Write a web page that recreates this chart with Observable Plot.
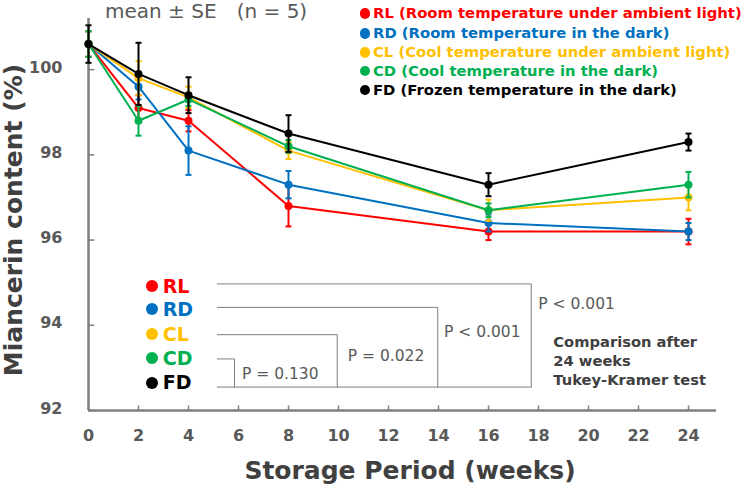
<!DOCTYPE html>
<html><head><meta charset="utf-8">
<script src="https://cdn.jsdelivr.net/npm/d3@7"></script>
<script src="https://cdn.jsdelivr.net/npm/@observablehq/plot@0.6"></script>
<style>
body{margin:0;background:#fff;}
#wrap{position:relative;width:744px;height:491px;overflow:hidden;font-family:"DejaVu Sans",sans-serif;}
#wrap svg{position:absolute;left:0;top:0;}
.t{position:absolute;white-space:pre;line-height:1.2;}
.dot{position:absolute;border-radius:50%;}
</style></head><body><div id="wrap"></div>
<script>
// ---- data ----
const weeks = [0, 2, 4, 8, 16, 24];
const seriesNames = ["RL", "RD", "CL", "CD", "FD"];
const seriesLabels = [
  "RL (Room temperature under ambient light)",
  "RD (Room temperature in the dark)",
  "CL (Cool temperature under ambient light)",
  "CD (Cool temperature in the dark)",
  "FD (Frozen temperature in the dark)"
];
const seriesColors = ["#FF0000", "#0070C0", "#FFC000", "#00B050", "#000000"];
const RL = [100.6, 99.1, 98.8, 96.8, 96.2, 96.2];
const RL_se = [0.3, 0.3, 0.25, 0.48, 0.2, 0.3];
const RD = [100.6, 99.6, 98.1, 97.3, 96.4, 96.2];
const RD_se = [0.3, 0.3, 0.57, 0.32, 0.2, 0.2];
const CL = [100.6, 99.8, 99.35, 98.1, 96.7, 97.0];
const CL_se = [0.3, 0.4, 0.25, 0.2, 0.25, 0.3];
const CD = [100.6, 98.8, 99.3, 98.2, 96.7, 97.3];
const CD_se = [0.3, 0.35, 0.15, 0.15, 0.16, 0.3];
const FD = [100.6, 99.9, 99.4, 98.5, 97.3, 98.3];
const FD_se = [0.44, 0.73, 0.42, 0.43, 0.27, 0.2];
const xTicks = [0, 2, 4, 6, 8, 10, 12, 14, 16, 18, 20, 22, 24];
const yTicks = [92, 94, 96, 98, 100];
// significance brackets (Tukey-Kramer, 24 weeks)
const bracketStart = 5.15;
const bracketBase = 92.55;
const bracketLevels = [94.97, 94.42, 93.78, 93.21]; // RL, RD, CL, CD
const bracketEnds = [17.71, 13.97, 9.95, 5.84];
const pLabels = ["P < 0.001", "P < 0.001", "P = 0.022", "P = 0.130"];

const means = [RL, RD, CL, CD, FD];
const ses = [RL_se, RD_se, CL_se, CD_se, FD_se];

// ---- build ----
const rows = seriesNames.map((s, k) => weeks.map((w, i) => ({series: s, week: w, mean: means[k][i], se: ses[k][i]})));

const axisColor = "#7F7F7F";
const labelColor = "#595959";
const capSym = {draw(ctx) { ctx.moveTo(-3, 0); ctx.lineTo(3, 0); }};
const xTickSym = {draw(ctx) { ctx.moveTo(0, 0); ctx.lineTo(0, -5); }};
const yTickSym = {draw(ctx) { ctx.moveTo(0, 0); ctx.lineTo(6, 0); }};

const bracketPts = [];
bracketLevels.forEach((lv, i) => {
  bracketPts.push({id: i, x: bracketStart, y: lv});
  bracketPts.push({id: i, x: bracketEnds[i], y: lv});
  bracketPts.push({id: i, x: bracketEnds[i], y: bracketBase});
});
bracketPts.push({id: 9, x: bracketStart, y: bracketBase});
bracketPts.push({id: 9, x: bracketEnds[0], y: bracketBase});

const marks = [
  Plot.line(bracketPts, {x: "x", y: "y", z: "id", stroke: axisColor, strokeWidth: 1}),
  Plot.ruleX([0], {stroke: axisColor, strokeWidth: 2.5}),
  Plot.ruleY([92], {stroke: axisColor, strokeWidth: 2.5}),
  Plot.dot(xTicks, {x: d => d, frameAnchor: "bottom", symbol: xTickSym, fill: "none", stroke: axisColor, strokeWidth: 1.5}),
  Plot.dot(yTicks, {y: d => d, frameAnchor: "left", symbol: yTickSym, fill: "none", stroke: axisColor, strokeWidth: 1.5}),
  Plot.text(xTicks, {x: d => d, frameAnchor: "bottom", dy: 30, text: d => String(d), fontSize: 16, fontWeight: "bold", fill: labelColor}),
  Plot.text(yTicks, {y: d => d, frameAnchor: "left", dx: -26, dy: -2, textAnchor: "end", text: d => String(d), fontSize: 16, fontWeight: "bold", fill: labelColor})
];
rows.forEach((r, k) => {
  const c = seriesColors[k];
  marks.push(
    Plot.ruleX(r, {x: "week", y1: d => d.mean - d.se, y2: d => d.mean + d.se, stroke: c, strokeWidth: 2}),
    Plot.dot(r, {x: "week", y: d => d.mean + d.se, symbol: capSym, fill: "none", stroke: c, strokeWidth: 2}),
    Plot.dot(r, {x: "week", y: d => d.mean - d.se, symbol: capSym, fill: "none", stroke: c, strokeWidth: 2}),
    Plot.line(r, {x: "week", y: "mean", stroke: c, strokeWidth: 2}),
    Plot.dot(r, {x: "week", y: "mean", r: 4, fill: c, stroke: "none"})
  );
});

const chart = Plot.plot({
  width: 744, height: 491,
  marginLeft: 88, marginRight: 28, marginTop: 18, marginBottom: 81,
  x: {domain: [0, 25.12], axis: null},
  y: {domain: [92, 101.2], axis: null},
  style: {fontFamily: "DejaVu Sans", background: "white"},
  marks
});
const wrap = document.getElementById("wrap");
wrap.appendChild(chart);

function addText(txt, left, cy, size, weight, color, extra) {
  const d = document.createElement("div");
  d.className = "t";
  d.textContent = txt;
  d.style.left = left + "px";
  d.style.top = (cy - size * 0.6) + "px";
  d.style.fontSize = size + "px";
  d.style.fontWeight = weight;
  d.style.color = color;
  if (extra) Object.assign(d.style, extra);
  wrap.appendChild(d);
  return d;
}
function addDot(cx, cy, r, color) {
  const d = document.createElement("div");
  d.className = "dot";
  d.style.left = (cx - r) + "px"; d.style.top = (cy - r) + "px";
  d.style.width = 2 * r + "px"; d.style.height = 2 * r + "px";
  d.style.background = color;
  wrap.appendChild(d);
}

// subtitle
addText("mean ± SE", 105, 10.5, 20, "normal", labelColor);
addText("(n = 5)", 236.7, 10.5, 20, "normal", labelColor);

// top-right legend
const topRows = [13.3, 33.3, 52.3, 71, 90];
seriesLabels.forEach((s, i) => {
  addDot(365, topRows[i], 5.3, seriesColors[i]);
  addText(s, 373, topRows[i], 14.8, "bold", seriesColors[i]);
});

// lower-left legend
const lowRows = [286, 309.3, 334.3, 358.3, 382.7];
seriesNames.forEach((s, i) => {
  addDot(151.7, lowRows[i], 6, seriesColors[i]);
  addText(s, 162.7, lowRows[i], 19, "bold", seriesColors[i]);
});

// p-values
const pPos = [[538.3, 304.3], [444, 332], [347.7, 356], [242, 374]];
pLabels.forEach((p, i) => addText(p, pPos[i][0], pPos[i][1], 15.5, "normal", labelColor));

// comparison note
["Comparison after", "24 weeks", "Tukey-Kramer test"].forEach((s, i) =>
  addText(s, 553.3, [341.7, 361, 380][i], 14.7, "bold", "#404040"));

// axis titles
addText("Storage Period (weeks)", 410, 471, 25, "bold", "#404040", {transform: "translateX(-50%)"});
const yt = addText("Miancerin content (%)", 14, 220, 25, "bold", "#404040");
yt.style.top = "220px";
yt.style.transform = "translate(-50%,-50%) rotate(-90deg)";
</script></body></html>
